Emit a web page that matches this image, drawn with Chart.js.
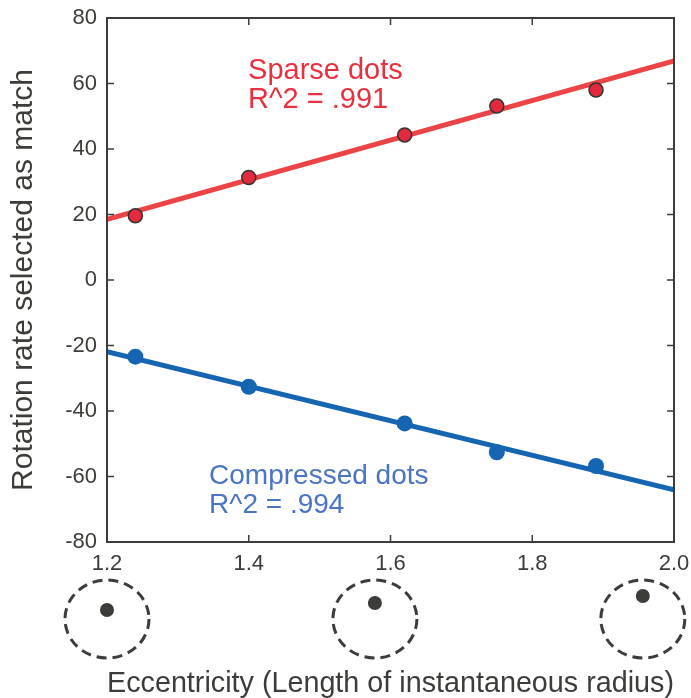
<!DOCTYPE html>
<html>
<head>
<meta charset="utf-8">
<script src="https://cdn.jsdelivr.net/npm/chart.js@4"></script>
<style>
html, body { margin: 0; padding: 0; background: #fff; }
</style>
</head>
<body>
<canvas id="chart" width="691" height="698"></canvas>
<script>
// values
const eccentricity = [1.24, 1.40, 1.62, 1.75, 1.89];
const sparseDots = [19.6, 31.3, 44.3, 53.1, 58.0];
const compressedDots = [-23.4, -32.6, -43.8, -52.6, -56.8];
const fitX = [1.2, 2.0];
const sparseFit = [18.5, 66.9];
const compressedFit = [-21.9, -64.1];
const xTicks = [1.2, 1.4, 1.6, 1.8, 2.0];
const yTicks = [-80, -60, -40, -20, 0, 20, 40, 60, 80];
const radiusIcons = [1.2, 1.578, 1.956];

const inkColor = '#3c3c38'
const redLine = '#ec4446'
const redDot = '#e3293d'
const blueLine = '#1565b3'
const fontFamily = '"Liberation Sans", Arial, Helvetica, sans-serif'

function pts(xs, ys) {
  return xs.map(function(x, i) { return {x: x, y: ys[i]} })
}

// box with inward ticks, text labels and the radius icons below the axis
const framePlugin = {
  id: 'frame',
  afterDraw: function(chart) {
    const ctx = chart.ctx
    const a = chart.chartArea
    const xs = chart.scales.x
    const ys = chart.scales.y
    ctx.save()
    ctx.strokeStyle = inkColor
    ctx.lineWidth = 2
    ctx.strokeRect(a.left, a.top, a.right - a.left, a.bottom - a.top)
    ctx.lineWidth = 1.5
    ctx.beginPath()
    xTicks.forEach(function(v) {
      const px = xs.getPixelForValue(v)
      ctx.moveTo(px, a.bottom); ctx.lineTo(px, a.bottom - 7)
      ctx.moveTo(px, a.top); ctx.lineTo(px, a.top + 7)
    })
    yTicks.forEach(function(v) {
      const py = ys.getPixelForValue(v)
      ctx.moveTo(a.left, py); ctx.lineTo(a.left + 7, py)
      ctx.moveTo(a.right, py); ctx.lineTo(a.right - 7, py)
    })
    ctx.stroke()

    // series labels
    ctx.textAlign = 'left'
    ctx.textBaseline = 'alphabetic'
    ctx.font = '29px ' + fontFamily
    ctx.fillStyle = '#e8303e'
    ctx.fillText('Sparse dots', xs.getPixelForValue(1.399), ys.getPixelForValue(61.4))
    ctx.fillText('R^2 = .991', xs.getPixelForValue(1.399), ys.getPixelForValue(52.5))
    ctx.font = '28px ' + fontFamily
    ctx.fillStyle = '#4a74c4'
    ctx.fillText('Compressed dots', xs.getPixelForValue(1.344), ys.getPixelForValue(-62.3))
    ctx.fillText('R^2 = .994', xs.getPixelForValue(1.344), ys.getPixelForValue(-71.1))

    // dashed circles with the dot moving off-centre
    const cy = a.bottom + 77
    radiusIcons.forEach(function(v, i) {
      const cx = xs.getPixelForValue(v)
      ctx.strokeStyle = inkColor
      ctx.lineWidth = 3
      ctx.setLineDash([10, 6])
      ctx.beginPath()
      ctx.ellipse(cx, cy, 42, 39, 0, 0, Math.PI * 2)
      ctx.stroke()
      ctx.setLineDash([])
      ctx.fillStyle = inkColor
      ctx.beginPath()
      ctx.arc(cx, cy - 9 - i * 7, 7, 0, Math.PI * 2)
      ctx.fill()
    })
    ctx.restore()
  }
}

Chart.defaults.font.family = fontFamily
Chart.defaults.color = inkColor

var ctx = document.getElementById('chart')

var chart = new Chart(ctx, {
  type: 'scatter',
  data: {
    datasets: [{
      label: 'Sparse dots',
      data: pts(eccentricity, sparseDots),
      backgroundColor: redDot,
      borderColor: '#333333',
      borderWidth: 1.5,
      pointRadius: 7,
      pointHoverRadius: 7,
      order: 1
    }, {
      label: 'Compressed dots',
      data: pts(eccentricity, compressedDots),
      backgroundColor: blueLine,
      borderColor: blueLine,
      borderWidth: 0,
      pointRadius: 8,
      pointHoverRadius: 8,
      order: 1
    }, {
      label: 'Sparse fit',
      data: pts(fitX, sparseFit),
      showLine: true,
      borderColor: redLine,
      borderWidth: 5,
      pointRadius: 0,
      fill: false,
      order: 2
    }, {
      label: 'Compressed fit',
      data: pts(fitX, compressedFit),
      showLine: true,
      borderColor: blueLine,
      borderWidth: 5,
      pointRadius: 0,
      fill: false,
      order: 2
    }]
  },
  options: {
    responsive: false,
    animation: false,
    layout: { padding: { top: 18, right: 17, left: 0, bottom: 0 } },
    plugins: {
      legend: { display: false },
      tooltip: { enabled: false }
    },
    scales: {
      x: {
        type: 'linear',
        min: 1.2,
        max: 2.0,
        afterBuildTicks: function(scale) { scale.ticks = xTicks.map(function(v) { return {value: v} }) },
        afterFit: function(scale) {
          scale.height = 156
          scale.paddingLeft = 0
          scale.paddingRight = 0
        },
        border: { display: false },
        grid: { display: false, drawTicks: false },
        ticks: {
          padding: 9,
          font: { size: 22 },
          color: inkColor,
          maxRotation: 0,
          callback: function(v) { return Number(v).toFixed(1) }
        },
        title: {
          display: true,
          text: 'Eccentricity (Length of instantaneous radius)',
          font: { size: 29, lineHeight: 1 },
          color: inkColor,
          padding: { top: 0, bottom: 0 }
        }
      },
      y: {
        min: -80,
        max: 80,
        afterBuildTicks: function(scale) { scale.ticks = yTicks.map(function(v) { return {value: v} }) },
        afterFit: function(scale) {
          scale.width = 107
          scale.paddingTop = 0
          scale.paddingBottom = 0
        },
        border: { display: false },
        grid: { display: false, drawTicks: false },
        ticks: {
          padding: 10,
          font: { size: 22 },
          color: inkColor
        },
        title: {
          display: true,
          text: 'Rotation rate selected as match',
          font: { size: 30, lineHeight: 1 },
          color: inkColor,
          padding: { top: 9, bottom: 0 }
        }
      }
    }
  },
  plugins: [framePlugin]
});
</script>
</body>
</html>
